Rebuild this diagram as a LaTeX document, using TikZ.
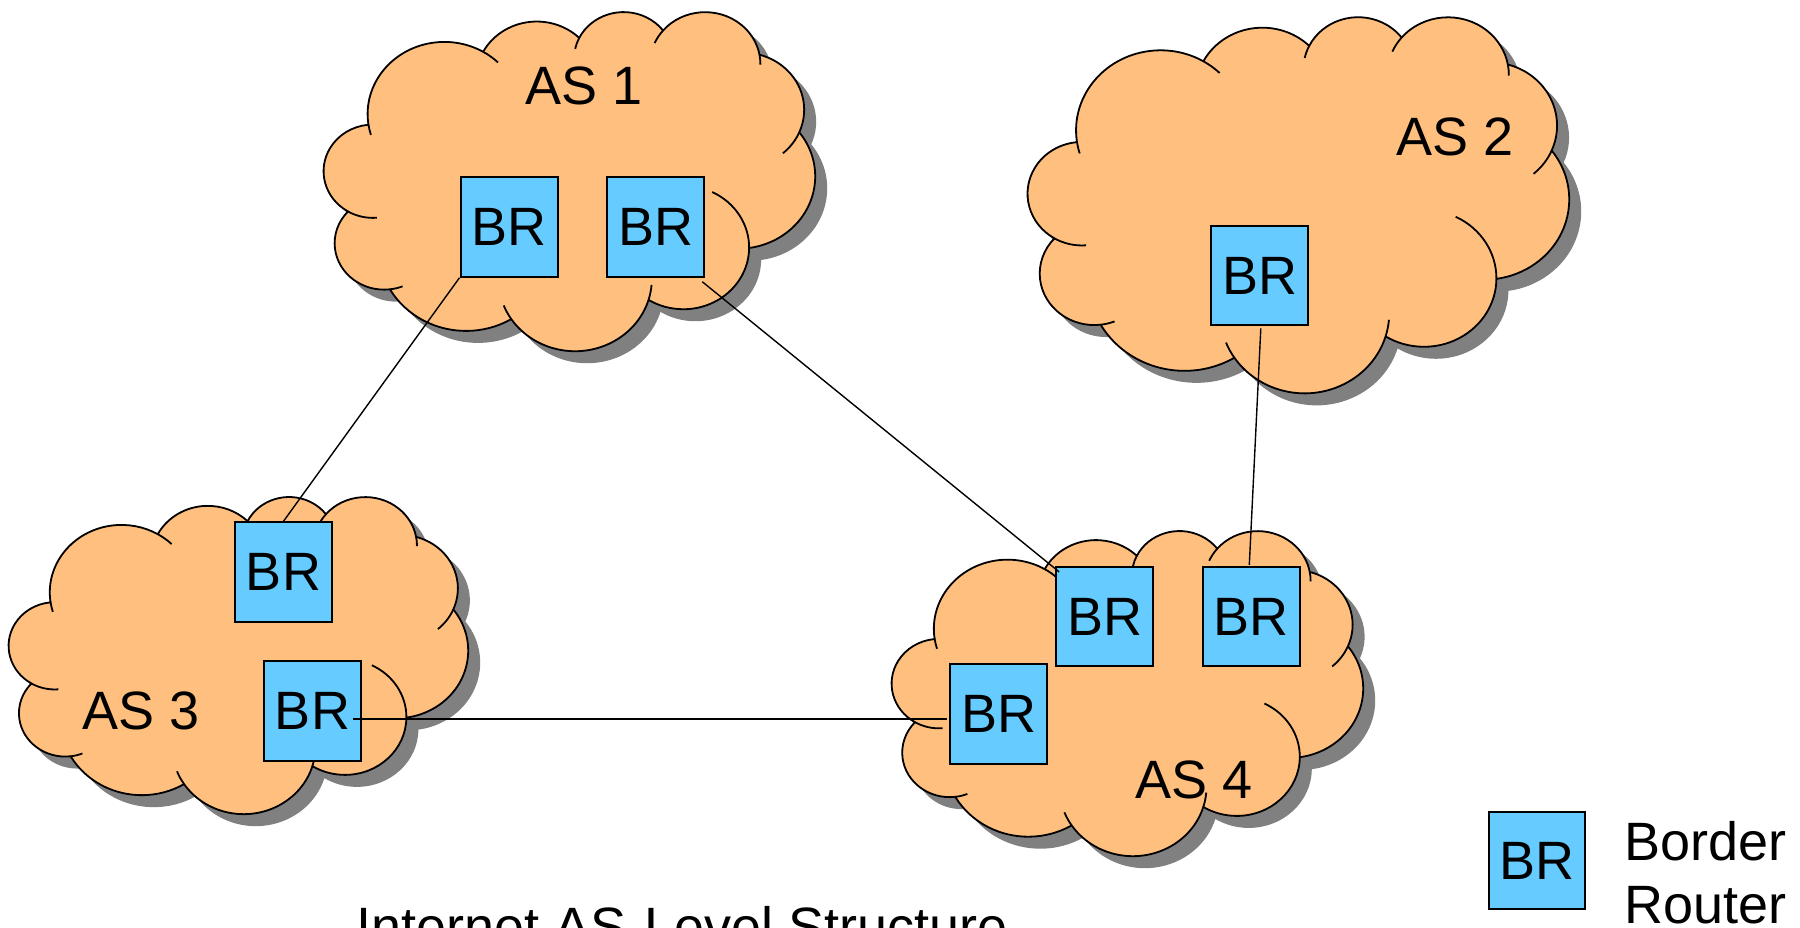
\documentclass[tikz,border=0pt]{standalone}
\usepackage{fontspec}
\setmainfont{Liberation Sans}
\definecolor{cloudfill}{RGB}{255,191,127}
\definecolor{brfill}{RGB}{102,204,255}
\definecolor{shadowgray}{RGB}{128,128,128}
\def\cloudmain{(39.00,143.70)
 arc[start angle=-187.747, end angle=-59.637, x radius=67.53, y radius=91.90]
 arc[start angle=-152.04, end angle=-45.456, x radius=53.33, y radius=72.67]
 arc[start angle=-153.484, end angle=-37.330, x radius=43.65, y radius=59.45]
 arc[start angle=-139.713, end angle=-10.211, x radius=48.57, y radius=65.95]
 arc[start angle=-74.763, end angle=23.208, x radius=53.33, y radius=72.73]
 arc[start angle=-37.530, end angle=81.864, x radius=67.75, y radius=92.20]
 arc[start angle=0.4596, end angle=121.978, x radius=57.85, y radius=78.67]
 arc[start angle=16.842, end angle=146.242, x radius=67.52, y radius=92.15]
 arc[start angle=58.985, end angle=150.182, x radius=77.20, y radius=105.43]
 arc[start angle=83.305, end angle=223.107, x radius=43.60, y radius=59.18]
 arc[start angle=120.35, end angle=264.112, x radius=43.45, y radius=59.45]
 -- cycle}
\def\cloudticks{
 (39.00,143.70) arc[start angle=172.253, end angle=163.192, x radius=67.53, y radius=91.90]
 (140.05,52.02) arc[start angle=-59.637, end angle=-45.729, x radius=67.53, y radius=91.90]
 (224.56,34.31) arc[start angle=-153.484, end angle=-167.725, x radius=43.65, y radius=59.45]
 (298.33,24.81) arc[start angle=-139.713, end angle=-156.284, x radius=48.57, y radius=65.95]
 (383.19,55.75) arc[start angle=-10.211, end angle=0.821, x radius=48.57, y radius=65.95]
 (418.18,154.59) arc[start angle=23.208, end angle=49.635, x radius=53.33, y radius=72.73]
 (374.04,302.02) arc[start angle=0.4596, end angle=-64.024, x radius=57.85, y radius=78.67]
 (285.55,368.11) arc[start angle=16.842, end angle=4.738, x radius=67.52, y radius=92.15]
 (164.79,392.63) arc[start angle=146.242, end angle=158.478, x radius=67.52, y radius=92.15]
 (58.03,354.69) arc[start angle=83.305, end angle=68.223, x radius=43.60, y radius=59.18]
 (21.11,255.49) arc[start angle=120.35, end angle=85.545, x radius=43.45, y radius=59.45]
}
\tikzset{
  cloudline/.style={draw=black, line width=0.9pt, line join=round},
  brbox/.style={draw=black, line width=1pt, fill=brfill, minimum width=48.5pt, minimum height=49.75pt, inner sep=0pt},
  conn/.style={draw=black, line width=0.7pt},
  label/.style={anchor=base, inner sep=0pt},
}
\newcommand\drawcloud[4]{%
  \begin{scope}[shift={(#1+12,#2+12)}, xscale=#3/432, yscale=#4/432]
    \fill[shadowgray] \cloudmain;
  \end{scope}
  \begin{scope}[shift={(#1,#2)}, xscale=#3/432, yscale=#4/432]
    \fill[cloudfill] \cloudmain;
    \draw[cloudline] \cloudmain;
    \draw[cloudline] \cloudticks;
  \end{scope}
}
\begin{document}
\begin{tikzpicture}[x=0.5pt, y=-0.5pt, font=\fontsize{27}{32}\selectfont]
\useasboundingbox (0,0) rectangle (1800,927);
\clip (0,0) rectangle (1800,927);
\fill[white] (0,0) rectangle (1800,927);

% clouds
\drawcloud{324}{11}{491}{339}
\drawcloud{1028}{16}{541}{376}
\drawcloud{9}{496}{459}{317}
\drawcloud{892}{530}{471}{325}

% AS labels
\node[label] (as1) at (584.5,104) {AS 1};
\node[label] (as2) at (1455,155) {AS 2};
\node[label] (as3) at (141.5,729) {AS 3};
\node[label] (as4) at (1194.5,798) {AS 4};

% border routers
\node[brbox] (a1l) at (509,227) {BR};
\node[brbox] (a1r) at (655.8,227) {BR};
\node[brbox] (a2) at (1259.8,275.7) {BR};
\node[brbox] (a3t) at (283.5,572) {BR};
\node[brbox] (a3b) at (312.5,711) {BR};
\node[brbox] (a4a) at (1104.7,616.7) {BR};
\node[brbox] (a4b) at (1251.3,616.7) {BR};
\node[brbox] (a4c) at (998.7,714) {BR};

% links
\draw[conn] (a1l.south west) -- (a3t.north);
\draw[conn] ([shift={(-3,4)}]a1r.south east) -- ([shift={(4,6)}]a4a.north west);
\draw[conn] ([shift={(1,2)}]a2.south) -- ([shift={(-2,-1)}]a4b.north);
\draw[conn] ([shift={(-9,8)}]a3b.east) -- ([shift={(-2,5)}]a4c.west);

% legend
\node[brbox, minimum width=48pt, minimum height=48.5pt] (leg) at (1537,860.5) {BR};
\node[anchor=base west, inner sep=0pt] (leg1) at (1624,860) {Border};
\node[anchor=base west, inner sep=0pt] (leg2) at (1624,923) {Router};

% title
\node[label] (title) at (682,945.5) {Internet AS-Level Structure};
\end{tikzpicture}
\end{document}
